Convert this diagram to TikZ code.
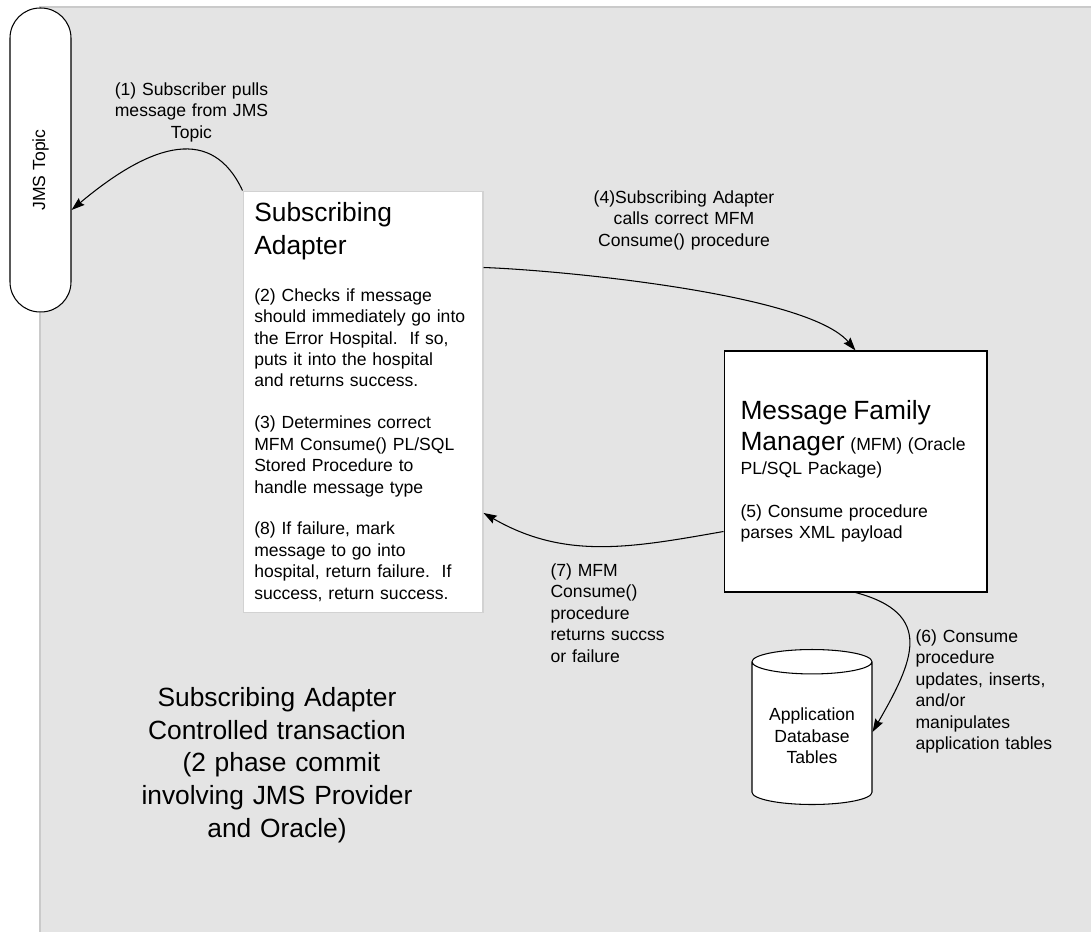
\documentclass[tikz,border=0pt]{standalone}
\usepackage{fontspec}
\setmainfont{Liberation Sans}
\usetikzlibrary{arrows.meta,shapes.geometric,positioning}
\definecolor{panel}{HTML}{E4E4E4}
\definecolor{paneledge}{HTML}{CACACA}
\setlength{\parindent}{0pt}
\newcommand{\bodyfont}{\fontsize{10}{12.2}\selectfont}
\newcommand{\headfont}{\fontsize{15}{18.6}\selectfont}

\begin{document}
\begin{tikzpicture}[->,>={Stealth[length=7.5pt,width=5pt,inset=1pt]},semithick,
    x=0.02cm,y=-0.02cm,
    box/.style={draw,fill=white,align=left,font=\bodyfont},
    lbl/.style={inner sep=0pt,font=\bodyfont}]

\useasboundingbox (0,0) rectangle (1091,932);
\path[-,fill=panel,draw=paneledge] (40,7) rectangle (1095,936);

\node[box,rounded corners=0.6cm,minimum width=1.22cm,minimum height=6.08cm] (jms) at (40.5,160) {\rotatebox{90}{JMS Topic\hspace{0.4cm}}};

\node[box,draw=gray!35,minimum width=4.8cm,minimum height=8.44cm,text width=4.35cm] (sa) at (363,402) {%
  {\headfont Subscribing\\Adapter\par}
  \vspace{14.5pt}
  (2) Checks if message\\should immediately go into\\the Error Hospital.\ \ If so,\\puts it into the hospital\\and returns success.\par
  \vspace{11.6pt}
  (3) Determines correct\\MFM Consume() PL/SQL\\Stored Procedure to\\handle message type\par
  \vspace{11.6pt}
  (8) If failure, mark\\message to go into\\hospital, return failure.\ \ If\\success, return success.\par};

\node[box,minimum width=5.26cm,minimum height=4.82cm,text width=4.6cm] (mfm) at (855.5,471.5) {%
  {\headfont\baselineskip=17.6pt Message Family\\Manager {\bodyfont(MFM) (Oracle}\par}
  \vspace{1.4pt}
  PL/SQL Package)\par
  \vspace{12.2pt}
  (5) Consume procedure\\parses XML payload\par};

\node[box,align=center,cylinder,shape border rotate=90,aspect=0.25,minimum width=2.4cm,minimum height=3.1cm] (db) at (812,736) {Application\\Database\\Tables};

\node[inner sep=0pt,font=\headfont,text width=6.5cm,align=center] (note) at (277,765) {Subscribing Adapter\\Controlled transaction\\\mbox{ }(2 phase commit\\involving JMS Provider\\and Oracle)};

% labels of the steps
\node[lbl,text width=4cm,align=center,anchor=north] (step1) at (191.5,82) {(1) Subscriber pulls\\message from JMS\\Topic};
\node[lbl,text width=4.2cm,align=center,anchor=north] (step4) at (684,190) {(4)Subscribing Adapter\\calls correct MFM\\Consume() procedure};
\node[lbl,text width=2.6cm,align=left,anchor=north west] (step7) at (550,563) {(7) MFM\\Consume()\\procedure\\returns succss\\or failure};
\node[lbl,text width=2.9cm,align=left,anchor=north west] (step6) at (915,629) {(6) Consume\\procedure\\updates, inserts,\\and/or\\manipulates\\application tables};

\path (sa.north west) edge [out=115,in=40,out looseness=1.05,in looseness=1.6] ([yshift=-1cm]jms.east);
\path ([yshift=-1.54cm]sa.north east) edge [out=-2,in=130,looseness=0.5] (mfm.north);
\path ([yshift=-1.2cm]mfm.west) edge [out=190,in=-30] ([yshift=-2.22cm]sa.east);
\path (mfm.south) edge [out=-15,in=60,looseness=1.5] ([yshift=0.08cm]db.east);

\end{tikzpicture}
\end{document}
